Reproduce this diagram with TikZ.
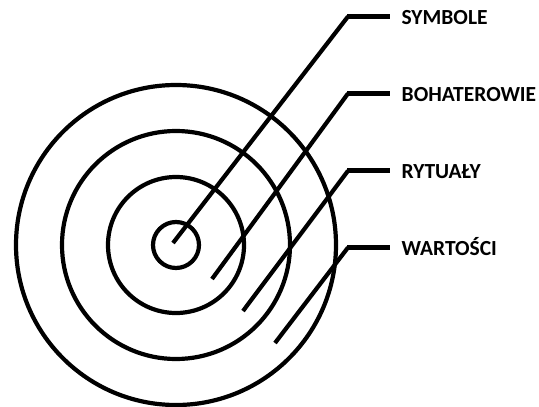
\documentclass[tikz,border=0pt]{standalone}
\usepackage{fontspec}
\setmainfont{Carlito}
\begin{document}
\begin{tikzpicture}[x=1pt,y=-1pt,
  ring/.style={circle,draw=black,line width=4.2pt,inner sep=0pt,outer sep=0pt,minimum size=#1},
  lab/.style={anchor=base west,inner xsep=11.5pt,inner ysep=0pt,text height=15pt,text depth=0pt,
    font=\fontsize{21.5}{24}\selectfont\bfseries},
  leader/.style={draw=black,line width=4.2pt,line cap=butt,line join=miter},
  bar/.style={draw=black,line width=4.8pt,line cap=butt}]
\useasboundingbox[fill=white] (0,0) rectangle (539,407);
% rings
\node[ring=46pt]  (c1) at (176,245) {};
\node[ring=136pt] (c2) at (176,245) {};
\node[ring=228pt] (c3) at (176,245) {};
\node[ring=320pt] (c4) at (176,245) {};
% labels
\node[lab] (sym) at (390,24)    {SYMBOLE};
\node[lab] (boh) at (390,101)   {BOHATEROWIE};
\node[lab] (ryt) at (390,178.3) {RYTUAŁY};
\node[lab] (war) at (390,255)   {WARTOŚCI};
% inner ends and bend column
\coordinate (e1) at (173,243);
\coordinate (e2) at (212,279);
\coordinate (e3) at (243,311);
\coordinate (e4) at (275,343);
\coordinate (bx) at (348,0);
% leaders
\draw[leader] (e1) -- (bx |- sym.west);
\draw[bar] ([xshift=-1pt]bx |- sym.west) -- (sym.west);
\draw[leader] (e2) -- (bx |- boh.west);
\draw[bar] ([xshift=-1pt]bx |- boh.west) -- (boh.west);
\draw[leader] (e3) -- (bx |- ryt.west);
\draw[bar] ([xshift=-1pt]bx |- ryt.west) -- (ryt.west);
\draw[leader] (e4) -- (bx |- war.west);
\draw[bar] ([xshift=-1pt]bx |- war.west) -- (war.west);
\end{tikzpicture}
\end{document}
